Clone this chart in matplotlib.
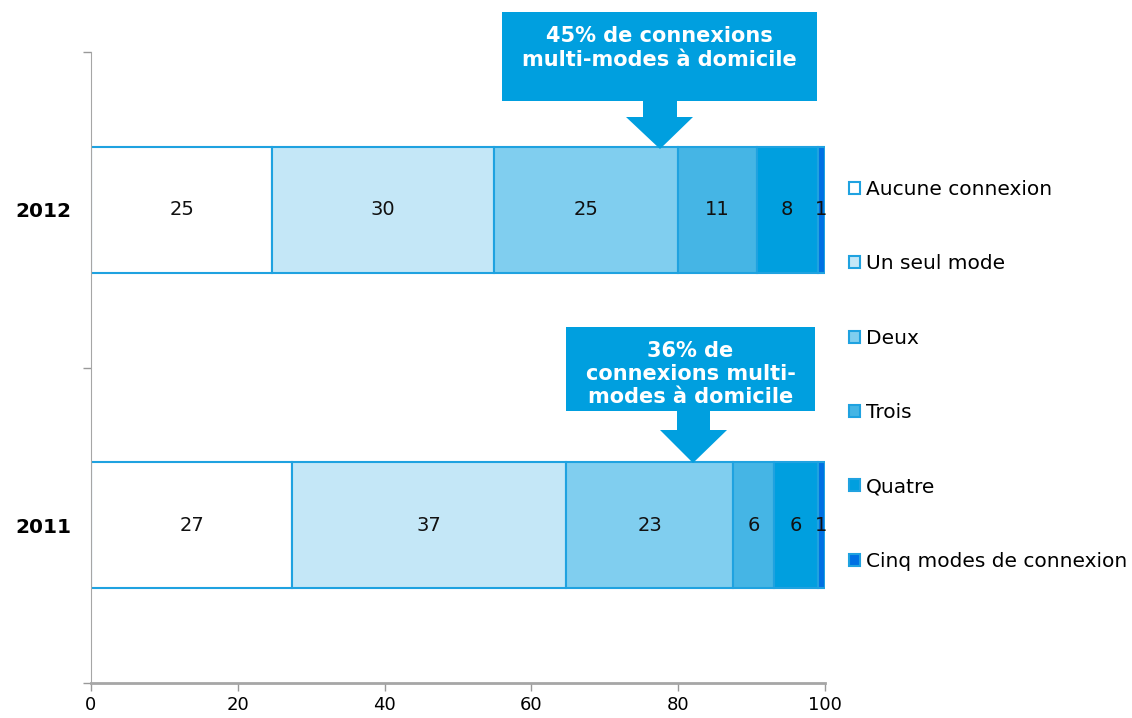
import matplotlib
matplotlib.use("Agg")
import matplotlib.pyplot as plt
from matplotlib.patches import Polygon, Rectangle

# ---- data ----
years = ["2011", "2012"]
series = ["Aucune connexion", "Un seul mode", "Deux", "Trois", "Quatre",
          "Cinq modes de connexion"]
values_2011 = [27.4, 37.3, 22.8, 5.6, 5.9, 1.0]
values_2012 = [24.7, 30.2, 25.1, 10.7, 8.3, 1.0]
labels_2011 = ["27", "37", "23", "6", "6", "1"]
labels_2012 = ["25", "30", "25", "11", "8", "1"]
colors = ["#FFFFFF", "#C4E7F7", "#80CEEF", "#45B5E5", "#009FDF", "#0070E3"]
edge = "#1FA2E0"
callout_2012 = "45% de connexions\nmulti-modes à domicile"
callout_2011 = "36% de\nconnexions multi-\nmodes à domicile"
xticks = [0, 20, 40, 60, 80, 100]

W, H = 1132, 718
fig = plt.figure(figsize=(W / 100, H / 100), dpi=100)
ax = fig.add_axes([91 / W, 1 - 683 / H, (825 - 91) / W, (683 - 52) / H])

data = [values_2011, values_2012]
labs = [labels_2011, labels_2012]
handles = []
for yi, (vals, lb) in enumerate(zip(data, labs)):
    left = 0.0
    for si, (v, t) in enumerate(zip(vals, lb)):
        b = ax.barh(yi, v, left=left, height=0.4, color=colors[si],
                    edgecolor=edge, linewidth=1.5)
        if yi == 0:
            handles.append(b)
        ax.text(left + v / 2, yi, t, ha="center", va="center", fontsize=14,
                color="#111111")
        left += v

ax.set_xlim(0, 100)
ax.set_ylim(-0.5, 1.5)
ax.set_xticks(xticks)
ax.set_xticklabels([str(x) for x in xticks], fontsize=13)
ax.set_yticks([-0.5, 0.5, 1.5])
ax.set_yticklabels([])
ax.set_yticks([0, 1], minor=True)
ax.set_yticklabels(years, minor=True, fontsize=14.5, fontweight="bold")
ax.tick_params(axis="y", which="minor", length=0, pad=14)
ax.tick_params(axis="both", which="major", direction="out", length=6,
               color="#999999", width=1)
ax.tick_params(axis="x", pad=3)
for s in ["top", "right"]:
    ax.spines[s].set_visible(False)
ax.spines["left"].set_color("#A6A6A6")
ax.spines["bottom"].set_color("#A6A6A6")
ax.spines["bottom"].set_linewidth(2)

leg = fig.legend(handles=handles, labels=series, loc="upper left",
                 bbox_to_anchor=(849 / W, 1 - 180 / H), frameon=False,
                 fontsize=14.5, handlelength=0.55, handleheight=0.55,
                 handletextpad=0.3, labelspacing=2.75, borderaxespad=0,
                 borderpad=0)

# ---- callouts (figure pixel coordinates) ----
blue = "#009FDF"
def fx(px):
    return px / W
def fy(py):
    return 1 - py / H

def callout(box, shaft, head, tip, text, ty):
    x0, y0, x1, y1 = box
    fig.patches.append(Rectangle((fx(x0), fy(y1)), fx(x1) - fx(x0), fy(y0) - fy(y1),
                                 transform=fig.transFigure, facecolor=blue,
                                 edgecolor="none", zorder=5))
    sx0, sx1, hy0 = shaft
    hx0, hx1 = head
    tx, tyy = tip
    pts = [(sx0, y1 - 1), (sx1, y1 - 1), (sx1, hy0), (hx1, hy0), (tx, tyy),
           (hx0, hy0), (sx0, hy0)]
    fig.patches.append(Polygon([(fx(a), fy(b)) for a, b in pts],
                               transform=fig.transFigure, facecolor=blue,
                               edgecolor="none", zorder=5))
    fig.text(fx((x0 + x1) / 2), fy(ty), text, ha="center", va="center",
             color="white", fontsize=15, fontweight="bold", linespacing=1.2,
             zorder=6)

callout((502, 12, 817, 101), (643, 677, 117), (626, 693), (660, 149),
        callout_2012, 48)
callout((566, 327, 815, 411), (677, 710, 430), (660, 727), (693, 463),
        callout_2011, 374)

fig.savefig("out.png", dpi=100)
